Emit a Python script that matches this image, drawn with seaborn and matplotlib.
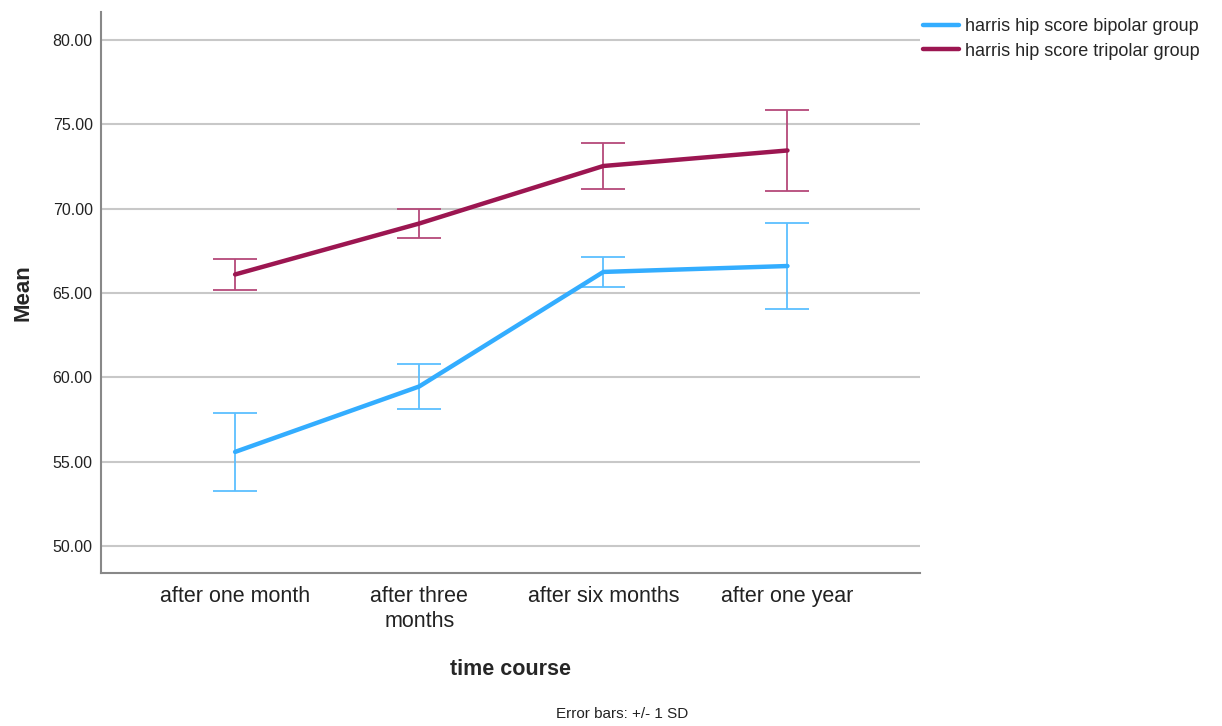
import pandas as pd
import numpy as np
import matplotlib.pyplot as plt
import seaborn as sns
from matplotlib.lines import Line2D

# ---------------------------------------------------------
# DATA
# ---------------------------------------------------------

time_points = ["after one month", "after three\nmonths", "after six months", "after one year"]
groups = ["harris hip score bipolar group", "harris hip score tripolar group"]

bipolar_mean = [55.58, 59.46, 66.25, 66.6]
bipolar_sd = [2.32, 1.33, 0.89, 2.55]

tripolar_mean = [66.1, 69.12, 72.53, 73.45]
tripolar_sd = [0.92, 0.86, 1.36, 2.4]

line_colors = ["#33adff", "#9c1651"]
bar_colors = ["#5cbfff", "#b5497a"]

df = pd.DataFrame({
    "time": time_points * 2,
    "mean": bipolar_mean + tripolar_mean,
    "sd": bipolar_sd + tripolar_sd,
    "group": [groups[0]] * 4 + [groups[1]] * 4,
})

# ---------------------------------------------------------
# PLOT
# ---------------------------------------------------------

sns.set_style("white")
plt.rcParams["font.family"] = ["Liberation Sans", "DejaVu Sans"]

fig = plt.figure(figsize=(12.22, 7.26), dpi=100)
ax = fig.add_axes([0.0827, 0.2107, 0.6702, 0.7728])

ax.yaxis.grid(True, color="#c8c8c8", linewidth=1.5)
ax.set_axisbelow(True)

sns.lineplot(
    data=df, x="time", y="mean", hue="group",
    palette=line_colors, linewidth=3.2, sort=False,
    legend=False, ax=ax, zorder=3
)

for i, g in enumerate(groups):
    sub = df[df["group"] == g]
    ax.errorbar(
        np.arange(len(sub)), sub["mean"], yerr=sub["sd"],
        fmt="none", ecolor=bar_colors[i], elinewidth=1.3,
        capsize=16, capthick=1.3, zorder=2
    )

ax.set_xlim(-0.728, 3.72)
ax.set_ylim(48.4, 81.66)
ax.set_yticks([50, 55, 60, 65, 70, 75, 80])
ax.set_yticklabels([f"{v:.2f}" for v in [50, 55, 60, 65, 70, 75, 80]])
ax.tick_params(axis="y", length=0, pad=6, labelsize=11.5, labelcolor="#222222")
ax.tick_params(axis="x", length=0, pad=9, labelsize=15.5, labelcolor="#222222")
for lbl in ax.get_xticklabels():
    lbl.set_linespacing(1.3)

for side in ["top", "right"]:
    ax.spines[side].set_visible(False)
for side in ["left", "bottom"]:
    ax.spines[side].set_color("#888888")
    ax.spines[side].set_linewidth(1.5)

ax.set_xlabel("time course", fontsize=15.5, fontweight="bold", labelpad=19)
ax.set_ylabel("Mean", fontsize=16, fontweight="bold", labelpad=14)

fig.text(622 / 1222, 1 - 714 / 726, "Error bars: +/- 1 SD",
         ha="center", va="center", fontsize=11, color="#222222")

handles = [Line2D([0], [0], color=c, linewidth=3.2) for c in line_colors]
fig.legend(
    handles, groups, loc="upper left",
    bbox_to_anchor=(0.7553, 0.975), frameon=False,
    fontsize=13, handlelength=2.0, handletextpad=0.3,
    labelspacing=0.42, borderpad=0, borderaxespad=0
)

fig.savefig("out.png", dpi=100)
